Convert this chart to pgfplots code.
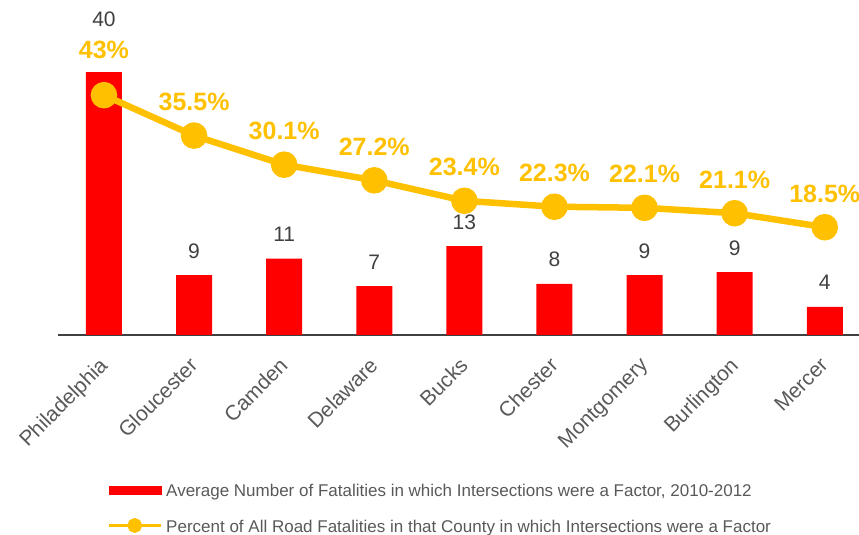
\documentclass[border=0pt]{standalone}
\usepackage{pgfplots}
\pgfplotsset{compat=1.18}
\usepackage{fontspec}
\setmainfont{Liberation Sans}
\definecolor{barred}{HTML}{FF0000}
\definecolor{gold}{HTML}{FFC000}
\definecolor{txt}{HTML}{595959}
\definecolor{lbl}{HTML}{404040}
\begin{document}
\begin{tikzpicture}
\useasboundingbox (0,0) rectangle (859pt,535pt);
\begin{axis}[
  at={(58pt,200pt)}, anchor=south west,
  scale only axis, width=801pt, height=328.75pt,
  xmin=-0.51, xmax=8.38, ymin=0, ymax=50,
  axis x line*=bottom, axis y line=none,
  x axis line style={draw=lbl, line width=1.2pt, -},
  xtick={0,...,8},
  xticklabels={Philadelphia,Gloucester,Camden,Delaware,Bucks,Chester,Montgomery,Burlington,Mercer},
  major tick length=0pt,
  xticklabel style={xshift=-6pt, yshift=-21pt, rotate=45, anchor=north east, inner sep=0pt, font=\fontsize{21}{21}\selectfont, text=txt},
  ybar, bar width=36pt,
  nodes near coords, point meta=explicit symbolic,
  nodes near coords style={font=\fontsize{21}{21}\selectfont, text=lbl, anchor=base, yshift=17pt, inner sep=0pt},
  coordinate style/.condition={y>30}{yshift=29pt},
]
\addplot[fill=barred, draw=none] coordinates {
(0,40)[40] (1,9.1)[9] (2,11.6)[11] (3,7.45)[7] (4,13.5)[13] (5,7.76)[8] (6,9.1)[9] (7,9.58)[9] (8,4.26)[4]};
\end{axis}
\begin{axis}[
  at={(58pt,200pt)}, anchor=south west,
  scale only axis, width=801pt, height=328.75pt,
  xmin=-0.51, xmax=8.38, ymin=-1.5, ymax=59.5,
  hide axis, clip=false,
  legend style={at={(0.0612,-0.4548)}, anchor=north west, draw=none, fill=none, inner sep=0pt,
    font=\fontsize{17}{17}\selectfont, text=txt,
    nodes={inner sep=0pt, text height=12pt, text depth=3.5pt},
    row sep=18pt, column sep=4pt},
  legend cell align=left,
]
\addlegendimage{legend image code/.code={\fill[barred] (0pt,-2pt) rectangle (52pt,6pt);}}
\addlegendentry{Average Number of Fatalities in which Intersections were a Factor, 2010-2012}
\addplot[gold, line width=6.5pt, mark=*, mark size=10pt, mark options={fill=gold, draw=none},
  nodes near coords, point meta=explicit symbolic,
  nodes near coords style={font=\fontsize{25}{25}\bfseries\selectfont, text=gold, anchor=base, yshift=25pt, inner sep=0pt},
  coordinate style/.condition={y>40}{yshift=12pt},
  legend image code/.code={\draw[gold, line width=3pt] (0pt,3pt) -- (52pt,3pt); \fill[gold] (26pt,3pt) circle (4pt);}
] coordinates {
(0,43)[43\%] (1,35.5)[35.5\%] (2,30.1)[30.1\%] (3,27.2)[27.2\%] (4,23.4)[23.4\%] (5,22.3)[22.3\%] (6,22.1)[22.1\%] (7,21.1)[21.1\%] (8,18.5)[18.5\%]};
\addlegendentry{Percent of All Road Fatalities in that County in which Intersections were a Factor}
\end{axis}
\end{tikzpicture}
\end{document}
